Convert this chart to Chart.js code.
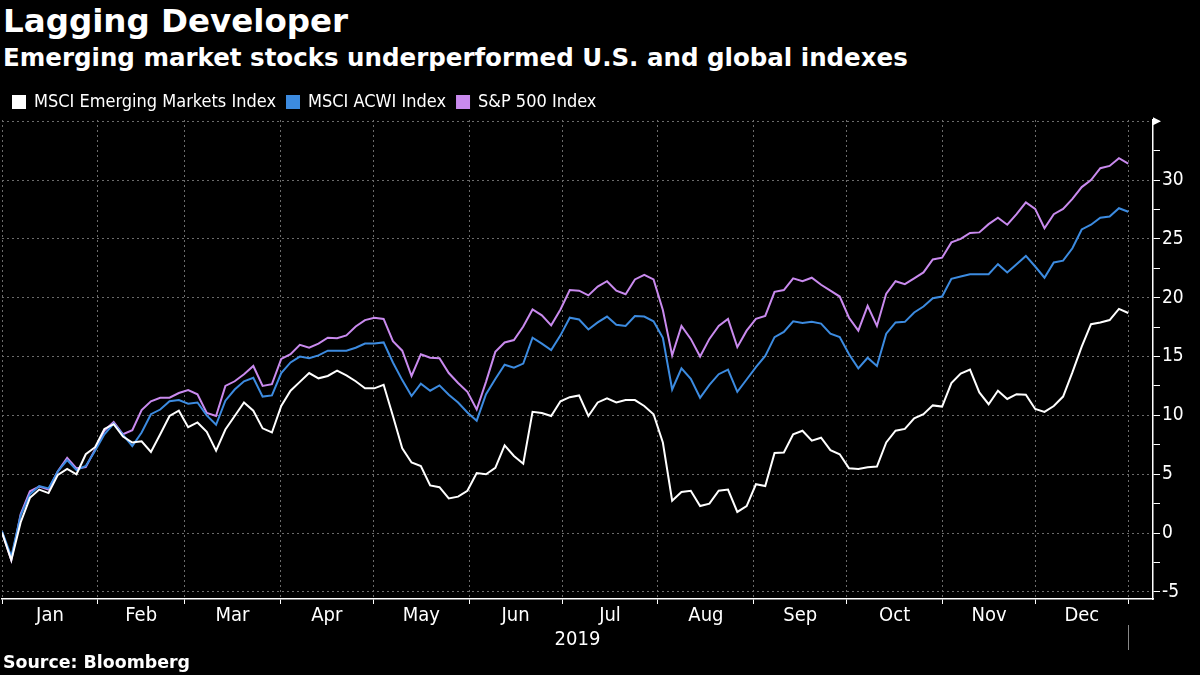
<!DOCTYPE html>
<html lang="en">
<head>
<meta charset="UTF-8">
<title>Lagging Developer</title>
<script src="https://cdn.jsdelivr.net/npm/chart.js"></script>
<style>
    body { margin: 0; background: #000; width: 1200px; height: 675px; overflow: hidden; font-family: "DejaVu Sans", sans-serif; color: #fff; }
    .head { position: absolute; left: 3px; font-weight: bold; white-space: nowrap; }
    #title { top: 5px; font-size: 32.5px; line-height: 32.5px; }
    #subtitle { top: 46px; font-size: 24.5px; line-height: 24.5px; }
    #source { top: 654px; font-size: 17.4px; line-height: 17.4px; }
    #wrap { position: absolute; left: 0; top: 82px; width: 1200px; height: 572px; }
</style>
</head>
<body>

<div id="title" class="head">Lagging Developer</div>
<div id="subtitle" class="head">Emerging market stocks underperformed U.S. and global indexes</div>
<div id="wrap"><canvas id="chart"></canvas></div>
<div id="source" class="head">Source: Bloomberg</div>

<script>
    // 2019 YTD % change, one reading roughly every 3 calendar days (Jan 1 .. Dec 31)
    const emerging = [
        0.05, -2.3, 0.9, 3.0, 3.7, 3.4, 4.95, 5.45, 5.0, 6.7,
        7.3, 8.85, 9.25, 8.2, 7.7, 7.8, 6.9, 8.4, 9.95, 10.4,
        9.0, 9.4, 8.6, 7.0, 8.8, 9.95, 11.1, 10.4, 8.9, 8.55,
        10.8, 12.1, 12.85, 13.6, 13.15, 13.35, 13.8, 13.4, 12.9, 12.3,
        12.3, 12.6, 9.95, 7.2, 6.0, 5.7, 4.05, 3.9, 2.95, 3.1,
        3.6, 5.1, 5.0, 5.55, 7.45, 6.55, 5.9, 10.3, 10.2, 9.95,
        11.2, 11.55, 11.7, 9.95, 11.1, 11.45, 11.1, 11.3, 11.3, 10.8,
        10.1, 7.7, 2.75, 3.5, 3.6, 2.3, 2.5, 3.6, 3.7, 1.8,
        2.3, 4.15, 4.0, 6.8, 6.85, 8.4, 8.7, 7.85, 8.1, 7.05,
        6.7, 5.5, 5.45, 5.6, 5.65, 7.7, 8.7, 8.85, 9.75, 10.1,
        10.85, 10.75, 12.75, 13.55, 13.9, 11.95, 10.95, 12.1, 11.4, 11.8,
        11.75, 10.55, 10.3, 10.8, 11.6, 13.65, 15.85, 17.75, 17.9, 18.1,
        19.05, 18.7
    ];
    const acwi = [
        0.15, -2.0, 1.5, 3.3, 4.0, 3.8, 5.25, 6.2, 5.35, 5.7,
        7.0, 8.4, 9.3, 8.35, 7.4, 8.55, 10.1, 10.5, 11.2, 11.3,
        11.0, 11.1, 10.0, 9.2, 11.25, 12.2, 12.9, 13.2, 11.6, 11.7,
        13.6, 14.5, 15.0, 14.85, 15.1, 15.5, 15.5, 15.5, 15.75, 16.1,
        16.1, 16.2, 14.5, 13.0, 11.65, 12.7, 12.1, 12.55, 11.75, 11.1,
        10.25, 9.55, 11.8, 13.1, 14.3, 14.05, 14.4, 16.6, 16.1, 15.55,
        16.8, 18.3, 18.15, 17.3, 17.9, 18.4, 17.7, 17.6, 18.45, 18.4,
        18.0, 16.6, 12.2, 14.0, 13.1, 11.5, 12.6, 13.5, 13.9, 12.0,
        13.05, 14.1, 15.05, 16.65, 17.1, 18.0, 17.85, 17.95, 17.8, 16.95,
        16.65, 15.2, 14.0, 14.9, 14.2, 16.95, 17.9, 17.95, 18.75, 19.25,
        19.95, 20.1, 21.6, 21.8, 22.0, 22.0, 22.0, 22.85, 22.15, 22.85,
        23.55, 22.65, 21.7, 23.0, 23.15, 24.2, 25.8, 26.2, 26.8, 26.9,
        27.6, 27.3
    ];
    const sp500 = [
        0.1, -2.3, 1.6, 3.55, 3.95, 3.7, 5.25, 6.4, 5.5, 5.6,
        7.1, 8.7, 9.45, 8.4, 8.75, 10.45, 11.2, 11.5, 11.5, 11.9,
        12.15, 11.8, 10.2, 9.95, 12.5, 12.9, 13.5, 14.2, 12.5, 12.65,
        14.8, 15.2, 16.0, 15.75, 16.1, 16.6, 16.55, 16.8, 17.55, 18.1,
        18.3, 18.2, 16.3, 15.5, 13.35, 15.2, 14.9, 14.85, 13.6, 12.75,
        12.0, 10.5, 12.85, 15.4, 16.2, 16.4, 17.55, 19.0, 18.5, 17.65,
        19.0, 20.65, 20.6, 20.2, 20.95, 21.4, 20.6, 20.3, 21.55, 21.95,
        21.55, 18.95, 15.1, 17.6, 16.5, 15.0, 16.5, 17.6, 18.2, 15.8,
        17.2, 18.2, 18.45, 20.5, 20.65, 21.65, 21.4, 21.7, 21.1, 20.6,
        20.1, 18.3, 17.2, 19.3, 17.6, 20.35, 21.4, 21.15, 21.65, 22.15,
        23.25, 23.4, 24.7, 25.0, 25.5, 25.55, 26.25, 26.8, 26.2, 27.1,
        28.1, 27.55, 25.9, 27.1, 27.55, 28.4, 29.4, 30.0, 31.0, 31.2,
        31.85, 31.4
    ];

    const seriesNames = ['MSCI Emerging Markets Index', 'MSCI ACWI Index', 'S&P 500 Index'];
    const monthNames = ['Jan', 'Feb', 'Mar', 'Apr', 'May', 'Jun', 'Jul', 'Aug', 'Sep', 'Oct', 'Nov', 'Dec'];
    const monthStarts = [0, 31, 59, 90, 120, 151, 181, 212, 243, 273, 304, 334, 364];  // day of year
    const yearLabel = '2019';

    // spread the readings evenly over the year (day of year on the x axis)
    const toPoints = arr => arr.map((v, i) => ({ x: i * 364 / (arr.length - 1), y: v }));

    const monthMids = monthNames.map((m, i) => (monthStarts[i] + monthStarts[i + 1]) / 2);
    const isBoundary = v => monthStarts.includes(v);

    const condensed = '"DejaVu Sans Condensed", "DejaVu Sans", sans-serif';

    // small extras: year-end marker under the axis and the arrow at the top of the value axis
    const extras = {
        id: 'extras',
        afterDraw(chart) {
            const ctx = chart.ctx, x = chart.scales.x, y = chart.scales.y;
            const ca = chart.chartArea;
            ctx.save();
            ctx.strokeStyle = '#888';
            ctx.lineWidth = 1;
            const xe = Math.round(x.getPixelForValue(364)) + 0.5;
            ctx.beginPath();
            ctx.moveTo(xe, ca.bottom + 26);
            ctx.lineTo(xe, ca.bottom + 51);
            ctx.stroke();
            const yt = y.getPixelForValue(35);
            ctx.fillStyle = '#fff';
            ctx.beginPath();
            ctx.moveTo(ca.right, yt - 4);
            ctx.lineTo(ca.right + 8, yt);
            ctx.lineTo(ca.right, yt + 4);
            ctx.fill();
            ctx.restore();
        }
    };

    const ctx = document.getElementById('chart').getContext('2d');
    const chart = new Chart(ctx, {
        type: 'line',
        data: {
            datasets: [
                { label: seriesNames[0], data: toPoints(emerging), borderColor: '#ffffff', backgroundColor: '#ffffff' },
                { label: seriesNames[1], data: toPoints(acwi), borderColor: '#3c8be0', backgroundColor: '#3c8be0' },
                { label: seriesNames[2], data: toPoints(sp500), borderColor: '#c98aee', backgroundColor: '#c98aee' }
            ]
        },
        options: {
            responsive: true,
            maintainAspectRatio: false,
            animation: false,
            layout: { padding: { left: 2, right: 0, top: 0, bottom: 0 } },
            elements: {
                line: { borderWidth: 2, tension: 0 },
                point: { radius: 0 }
            },
            plugins: {
                legend: {
                    align: 'start',
                    labels: {
                        color: '#ffffff',
                        boxWidth: 12,
                        boxHeight: 12,
                        padding: 11,
                        font: { family: condensed, size: 18 }
                    }
                },
                tooltip: { enabled: false }
            },
            scales: {
                x: {
                    type: 'linear',
                    min: 0,
                    max: 372,
                    afterBuildTicks: s => {
                        s.ticks = monthStarts.concat(monthMids).sort((a, b) => a - b).map(v => ({ value: v }));
                    },
                    afterFit: s => { s.height = 55; },
                    ticks: {
                        autoSkip: false,
                        maxRotation: 0,
                        padding: 0,
                        color: '#ffffff',
                        font: { family: condensed, size: 20 },
                        callback: v => {
                            const i = monthMids.indexOf(v);
                            return i >= 0 ? monthNames[i] : '';
                        }
                    },
                    grid: {
                        color: c => (c.tick && isBoundary(c.tick.value)) ? '#6b6b6b' : 'rgba(0,0,0,0)',
                        tickColor: c => (c.tick && isBoundary(c.tick.value)) ? '#ffffff' : 'rgba(0,0,0,0)',
                        tickLength: 5,
                        lineWidth: 1
                    },
                    border: { display: true, color: '#ffffff', width: 1.5, dash: [2, 3] },
                    title: { display: true, text: yearLabel, color: '#ffffff', font: { family: condensed, size: 20 }, padding: { top: 0, bottom: 2 } }
                },
                y: {
                    position: 'right',
                    min: -5.6,
                    max: 35.1,
                    afterFit: s => { s.width = 47; },
                    ticks: {
                        stepSize: 2.5,
                        includeBounds: false,
                        padding: 2,
                        color: '#ffffff',
                        font: { family: condensed, size: 19 },
                        callback: v => (v % 5 === 0 && v < 35) ? String(v) : ''
                    },
                    grid: {
                        color: c => (c.tick && c.tick.value % 5 === 0) ? '#6b6b6b' : 'rgba(0,0,0,0)',
                        tickColor: '#ffffff',
                        tickLength: 7,
                        lineWidth: 1
                    },
                    border: { display: true, color: '#ffffff', width: 1.5, dash: [2, 3] }
                }
            }
        },
        plugins: [extras, {
            id: 'legendHeight',
            beforeInit(chart) {
                const fit = chart.legend.fit;
                chart.legend.fit = function () {
                    fit.call(this);
                    this.height = 38;
                };
            }
        }]
    });
</script>

</body>
</html>
